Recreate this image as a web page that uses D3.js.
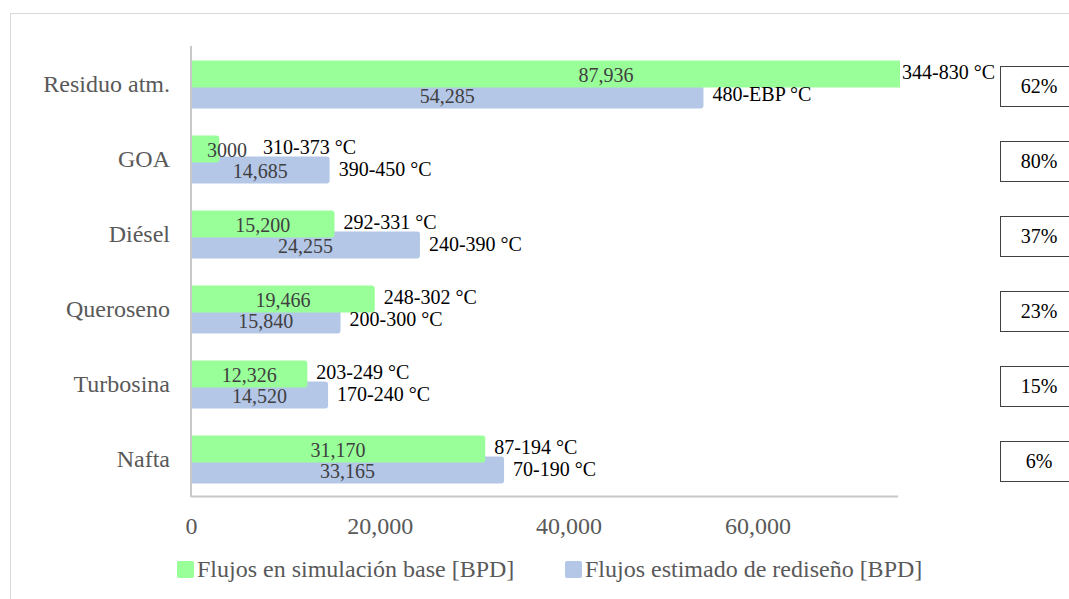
<!DOCTYPE html>
<html>
<head>
<meta charset="utf-8">
<script src="https://cdn.jsdelivr.net/npm/d3@7"></script>
<style>
  html, body { margin: 0; padding: 0; background: #fff; }
  svg { display: block; }
  svg text { font-family: "Liberation Serif", "Times New Roman", serif !important; }
</style>
</head>
<body>
<svg id="chart" width="1069" height="599"></svg>
<script>
// Product cuts of the distillation column
const categories = ["Residuo atm.", "GOA", "Diésel", "Queroseno", "Turbosina", "Nafta"];
// Flows [BPD]
const baseFlow = [87936, 3000, 15200, 19466, 12326, 31170];
const redesignFlow = [54285, 14685, 24255, 15840, 14520, 33165];
// Value labels as printed on the bars
const baseFlowLabels = ["87,936", "3000", "15,200", "19,466", "12,326", "31,170"];
const redesignFlowLabels = ["54,285", "14,685", "24,255", "15,840", "14,520", "33,165"];
// Boiling ranges of each cut
const baseRange = ["344-830 °C", "310-373 °C", "292-331 °C", "248-302 °C", "203-249 °C", "87-194 °C"];
const redesignRange = ["480-EBP °C", "390-450 °C", "240-390 °C", "200-300 °C", "170-240 °C", "70-190 °C"];
// Percentage shown at the right of each cut
const changePct = ["62%", "80%", "37%", "23%", "15%", "6%"];
// Axis
const xTicks = [0, 20000, 40000, 60000];
const xMax = 75000;
const seriesNames = ["Flujos en simulación base [BPD]", "Flujos estimado de rediseño [BPD]"];

const colors = ["#99ff99", "#b4c7e7"];
const gray = "#595959";
const serif = "'Liberation Serif', 'Times New Roman', serif";

const svg = d3.select("#chart");

// Outer chart frame
svg.append("rect")
  .attr("x", 10.5).attr("y", 13.5)
  .attr("width", 1100).attr("height", 700)
  .attr("fill", "none").attr("stroke", "#d9d9d9").attr("stroke-width", 1);

const x = d3.scaleLinear().domain([0, xMax]).range([191, 899]);
const y = d3.scaleBand().domain(categories).range([47, 497]);
const center = c => y(c) + y.bandwidth() / 2;

const rows = categories.map((c, i) => ({
  cat: c,
  base: baseFlow[i], red: redesignFlow[i],
  baseLbl: baseFlowLabels[i], redLbl: redesignFlowLabels[i],
  baseRange: baseRange[i], redRange: redesignRange[i],
  pct: changePct[i]
}));

// Clip bars to the plot area
svg.append("clipPath").attr("id", "plotClip")
  .append("rect").attr("x", x(0)).attr("y", 40).attr("width", x(xMax) + 1 - x(0)).attr("height", 470);

const bars = svg.append("g").attr("clip-path", "url(#plotClip)");
const barH = 27;

// Redesign series (drawn first, sits lower)
bars.selectAll("rect.red").data(rows).join("rect")
  .attr("class", "red")
  .attr("x", x(0) - 4)
  .attr("y", d => center(d.cat) - 3)
  .attr("width", d => x(d.red) - x(0) + 4)
  .attr("height", barH)
  .attr("rx", 3)
  .attr("fill", colors[1]);

// Base simulation series (on top)
bars.selectAll("rect.base").data(rows).join("rect")
  .attr("class", "base")
  .attr("x", x(0) - 4)
  .attr("y", d => center(d.cat) - 24)
  .attr("width", d => x(d.base) - x(0) + 4)
  .attr("height", barH)
  .attr("rx", 3)
  .attr("fill", colors[0]);

// Axis lines
svg.append("line")
  .attr("x1", x(0)).attr("x2", x(0)).attr("y1", 46).attr("y2", 497)
  .attr("stroke", "#c8c8c8").attr("stroke-width", 2);
svg.append("line")
  .attr("x1", x(0)).attr("x2", x(xMax) - 1).attr("y1", 496.5).attr("y2", 496.5)
  .attr("stroke", "#c8c8c8").attr("stroke-width", 2);

// X tick labels
const xAxis = d3.axisBottom(x).tickValues(xTicks).tickFormat(d3.format(",")).tickSize(0).tickPadding(0);
const gx = svg.append("g").call(xAxis).attr("font-family", serif).attr("font-size", 24);
gx.select(".domain").remove();
gx.selectAll("text")
  .attr("y", 534).attr("dy", null)
  .attr("fill", gray)
  .style("font-family", serif).style("font-size", "24px");

// Category labels
const yAxis = d3.axisLeft(y).tickSize(0).tickPadding(0);
const gy = svg.append("g").attr("transform", "translate(170,0)").call(yAxis)
  .attr("font-family", serif).attr("font-size", 24);
gy.select(".domain").remove();
gy.selectAll("text")
  .attr("x", 0).attr("dy", "0.33em")
  .attr("fill", gray)
  .style("font-family", serif).style("font-size", "24px");

// Value labels inside the bars, then the boiling range after each bar
function labelSeries(key, lblKey, rangeKey, offset, rangeShift) {
  rows.forEach(d => {
    const v = d[key];
    const cy = center(d.cat) + offset;
    const barEnd = x(Math.min(v, xMax));
    const t = svg.append("text")
      .attr("y", cy + 1).attr("dy", "0.33em")
      .style("font-family", serif).style("font-size", "20px")
      .attr("fill", "#404040")
      .text(d[lblKey]);
    const w = t.node().getComputedTextLength();
    let valEnd;
    if (w > barEnd - x(0)) {
      t.attr("x", x(0) + 16).attr("text-anchor", "start");
      valEnd = x(0) + 16 + w;
    } else {
      t.attr("x", x(v / 2)).attr("text-anchor", "middle");
      valEnd = -Infinity;
    }
    const rx = v > xMax ? barEnd + 3 : Math.max(barEnd + 9, valEnd + 16);
    svg.append("text")
      .attr("x", rx).attr("y", cy + rangeShift).attr("dy", "0.33em")
      .style("font-family", serif).style("font-size", "20px")
      .attr("fill", "#000")
      .text(d[rangeKey]);
  });
}
labelSeries("base", "baseLbl", "baseRange", -10.5, -2);
labelSeries("red", "redLbl", "redRange", 10.5, -1);

// Percentage boxes at the right
const pg = svg.append("g");
pg.selectAll("rect").data(rows).join("rect")
  .attr("x", 1000.5).attr("y", d => center(d.cat) + 2 - 20)
  .attr("width", 78).attr("height", 40)
  .attr("fill", "#fff").attr("stroke", "#404040").attr("stroke-width", 1);
pg.selectAll("text").data(rows).join("text")
  .attr("x", 1039).attr("y", d => center(d.cat) + 2).attr("dy", "0.33em")
  .attr("text-anchor", "middle")
  .style("font-family", serif).style("font-size", "20px")
  .attr("fill", "#000")
  .text(d => d.pct);

// Legend
const legendX = [177, 565];
seriesNames.forEach((name, i) => {
  svg.append("rect")
    .attr("x", legendX[i]).attr("y", 561).attr("width", 17).attr("height", 17)
    .attr("rx", 2).attr("fill", colors[i]);
  svg.append("text")
    .attr("x", legendX[i] + 20).attr("y", 577)
    .style("font-family", serif).style("font-size", "24px")
    .attr("fill", gray)
    .text(name);
});
</script>
</body>
</html>
